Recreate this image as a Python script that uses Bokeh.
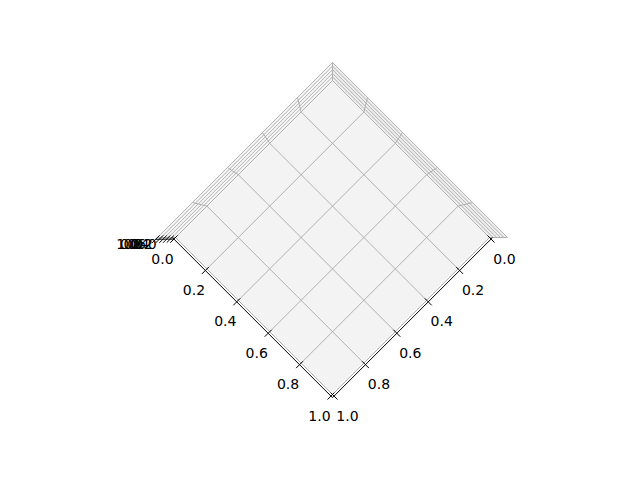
import numpy as np
from bokeh.plotting import figure
from bokeh.models import Range1d, ColumnDataSource
from bokeh.embed import file_html
from bokeh.resources import INLINE
from bokeh.core.properties import value

# Axis tick values and labels (empty 3D axes, top-down view)
x_ticks = [0.0, 0.2, 0.4, 0.6, 0.8, 1.0]
y_ticks = [0.0, 0.2, 0.4, 0.6, 0.8, 1.0]
z_ticks = [0.0, 0.2, 0.4, 0.6, 0.8, 1.0]
x_labels = ["0.0", "0.2", "0.4", "0.6", "0.8", "1.0"]
y_labels = ["0.0", "0.2", "0.4", "0.6", "0.8", "1.0"]
z_labels = ["0.0", "0.2", "0.4", "0.6", "0.8", "1.0"]

# view parameters (screen projection of the unit cube)
CX, CY, S, K = 332.0, 237.0, 157.0, 0.115
D = 0.01  # axis-line offset beyond the data limits


def proj(x, y, z):
    f = 1 + K * z
    return CX + (x - y) * S * f, CY + (x + y - 1) * S * f


def seg(a, b):
    pa, pb = proj(*a), proj(*b)
    return [pa[0], pb[0]], [pa[1], pb[1]]


def poly(pts):
    ps = [proj(*q) for q in pts]
    return [q[0] for q in ps], [q[1] for q in ps]


p = figure(width=624, height=464, x_range=Range1d(0, 624), y_range=Range1d(464, 0),
           output_backend="svg", toolbar_location=None,
           x_axis_location=None, y_axis_location=None, min_border=0)
p.grid.visible = False
p.outline_line_color = None
p.background_fill_color = "white"
p.border_fill_color = "white"

# panes
xs, ys = [], []
for pts in ([(0, 0, 0), (1, 0, 0), (1, 1, 0), (0, 1, 0)],
            [(0, 0, 0), (0, 1, 0), (0, 1, 1), (0, 0, 1)],
            [(0, 0, 0), (1, 0, 0), (1, 0, 1), (0, 0, 1)]):
    a, b = poly(pts)
    xs.append(a)
    ys.append(b)
p.patches(xs, ys, fill_color=["#f3f3f3", "#f7f7f7", "#efefef"], line_color=None)

# grid lines
gx, gy = [], []
for t in x_ticks:
    for a, b in (((t, 0, 0), (t, 1, 0)), ((t, 0, 0), (t, 0, 1))):
        sx, sy = seg(a, b)
        gx.append(sx); gy.append(sy)
for t in y_ticks:
    for a, b in (((0, t, 0), (1, t, 0)), ((0, t, 0), (0, t, 1))):
        sx, sy = seg(a, b)
        gx.append(sx); gy.append(sy)
for z in z_ticks:
    for a, b in (((0, 0, z), (0, 1, z)), ((0, 0, z), (1, 0, z))):
        sx, sy = seg(a, b)
        gx.append(sx); gy.append(sy)
p.multi_line(gx, gy, line_color="#b0b0b0", line_width=1.0)

# axis lines
ax, ay = [], []
for a, b in (((-D, 1 + D, 0), (1 + D, 1 + D, 0)),
             ((1 + D, -D, 0), (1 + D, 1 + D, 0)),
             ((0, 1 + D, 0), (0, 1 + D, 1))):
    sx, sy = seg(a, b)
    ax.append(sx); ay.append(sy)
p.multi_line(ax, ay, line_color="black", line_width=1.0)

# ticks
tx, ty = [], []
L = 0.022
for t in x_ticks:
    sx, sy = seg((t, 1 + D - L, 0), (t, 1 + D + L, 0))
    tx.append(sx); ty.append(sy)
for t in y_ticks:
    sx, sy = seg((1 + D - L, t, 0), (1 + D + L, t, 0))
    tx.append(sx); ty.append(sy)
for z in z_ticks:
    sx, sy = seg((0, 1 + D - L, z), (0, 1 + D + L, z))
    tx.append(sx); ty.append(sy)
p.multi_line(tx, ty, line_color="black", line_width=1.0)

# tick labels
font = value("DejaVu Sans")
xl = [proj(t, 1, 0) for t in x_ticks]
p.text([q[0] for q in xl], [q[1] for q in xl], text=x_labels, x_offset=-13, y_offset=21,
       text_font=font, text_font_size="14px", text_align="center",
       text_baseline="middle", text_color="black")
yl = [proj(1, t, 0) for t in y_ticks]
p.text([q[0] for q in yl], [q[1] for q in yl], text=y_labels, x_offset=15, y_offset=21,
       text_font=font, text_font_size="14px", text_align="center",
       text_baseline="middle", text_color="black")
zl = [proj(0, 1, z) for z in z_ticks]
p.text([q[0] for q in zl], [q[1] for q in zl], text=z_labels, x_offset=-30, y_offset=6,
       text_font=font, text_font_size="14px", text_align="center",
       text_baseline="middle", text_color="black")

open("out.html", "w").write(file_html(p, INLINE))
